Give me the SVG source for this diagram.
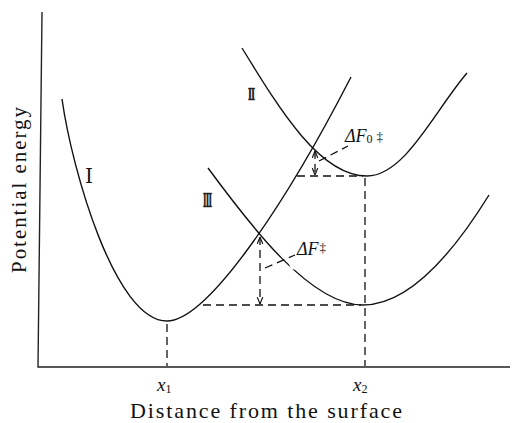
<svg xmlns="http://www.w3.org/2000/svg" width="515" height="423" viewBox="0 0 515 423">
<defs>
<style>
.curve{fill:none;stroke:#111;stroke-width:1.4}
.axis{fill:none;stroke:#222;stroke-width:1.4}
.dash{fill:none;stroke:#111;stroke-width:1.3;stroke-dasharray:8,5}
.lbl{font-family:"Liberation Serif","DejaVu Serif",serif;fill:#111}
.it{font-style:italic}
.rn{font-weight:bold;stroke:#333;stroke-width:0.6}
</style>
<marker id="ah" viewBox="0 0 10 10" refX="10" refY="5" markerWidth="7" markerHeight="7" markerUnits="userSpaceOnUse" orient="auto-start-reverse">
<path d="M0,1 L10,5 L0,9" fill="none" stroke="#111" stroke-width="1.6"/>
</marker>
</defs>
<rect width="515" height="423" fill="#fff"/>
<g id="axes">
<path class="axis" d="M42,12 L38,367 L510,367"/>
<text class="lbl" transform="translate(26,190) rotate(-90)" text-anchor="middle" font-size="21" textLength="166" lengthAdjust="spacing">Potential energy</text>
<text class="lbl" x="130" y="418" font-size="22" textLength="272" lengthAdjust="spacing">Distance from the surface</text>
<text class="lbl it" x="157" y="391" font-size="19">x<tspan font-style="normal" font-size="12" dy="2">1</tspan></text>
<text class="lbl it" x="353" y="391" font-size="19">x<tspan font-style="normal" font-size="12" dy="2">2</tspan></text>
</g>
<g id="curve-I">
<path class="curve" d="M62,99 C72,170 115,321 167,321 C205,321 280,215 351,77"/>
<text class="lbl" x="89" y="183" font-size="20" text-anchor="middle">Ⅰ</text>
</g>
<g id="curve-II">
<path class="curve" d="M242,48 C280,110 320,176 367,176 C405,176 435,110 467,73"/>
<text class="lbl rn" x="248" y="100" font-size="17" textLength="7" lengthAdjust="spacingAndGlyphs">Ⅱ</text>
</g>
<g id="curve-III">
<path class="curve" d="M208,168 C250,225 310,305 363,305 C410,305 455,250 489,195"/>
<circle cx="294" cy="265" r="4.5" fill="#fff"/>
<text class="lbl rn" x="203" y="207" font-size="19" textLength="9" lengthAdjust="spacingAndGlyphs">Ⅲ</text>
</g>
<g id="connectors">
<path class="dash" d="M167,324 L167,366"/>
<path class="dash" d="M365,178 L365,366"/>
<path class="dash" d="M297,176 L363,176"/>
<path class="dash" d="M203,305 L361,305"/>
<path class="dash" d="M315,151 L315,175" stroke-dasharray="5,3" marker-start="url(#ah)" marker-end="url(#ah)"/>
<path class="dash" d="M260,237 L260,304" marker-start="url(#ah)" marker-end="url(#ah)"/>
<path class="dash" d="M319,161 L348,146" stroke-dasharray="5,4"/>
<path class="dash" d="M265,268 L295,255" stroke-dasharray="5,4"/>
</g>
<g id="label-dF0">
<text class="lbl it" x="345" y="142" font-size="18">ΔF<tspan font-style="normal" font-size="12" dy="1">0</tspan><tspan font-style="normal" font-size="13" dx="4" dy="-2">‡</tspan></text>
</g>
<g id="label-dF">
<text class="lbl it" x="297" y="255" font-size="18">ΔF<tspan font-style="normal" font-size="13" dx="1" dy="-3">‡</tspan></text>
</g>
</svg>
